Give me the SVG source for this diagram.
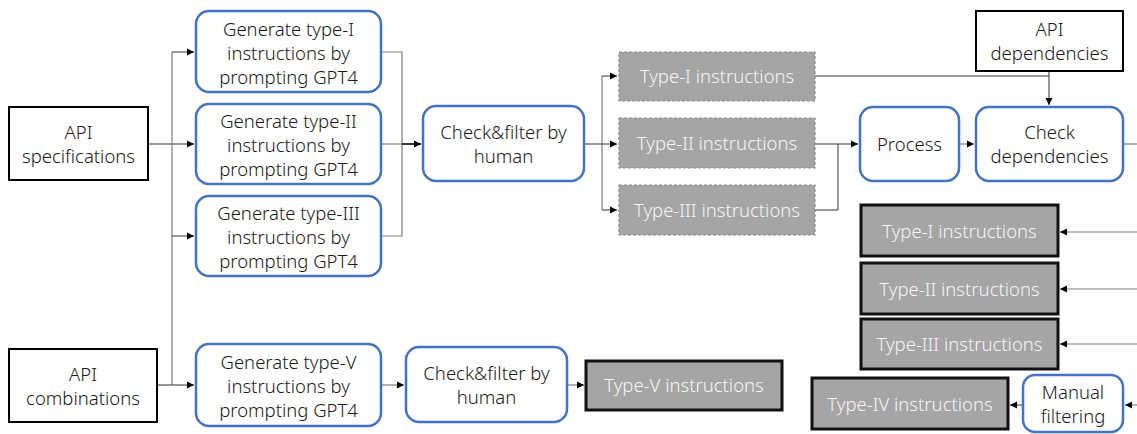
<svg xmlns="http://www.w3.org/2000/svg" width="1137" height="434" viewBox="0 0 1137 434">
<style>
text{font-family:"Noto Sans","Open Sans","Liberation Sans",sans-serif;font-size:18.5px;font-weight:300;fill:#1a1a1a;text-anchor:middle}
.w{fill:#f4f4f4}
.src{fill:#ffffff;stroke:#000;stroke-width:2}
.proc{fill:#ffffff;stroke:#4472C4;stroke-width:2.5}
.dash{fill:#A5A5A5;stroke:#8a8a8a;stroke-width:1.2;stroke-dasharray:3 2}
.out{fill:#A5A5A5;stroke:#111;stroke-width:3}
.c{fill:none;stroke:#7f7f7f;stroke-width:1.2}
.k{fill:none;stroke:#333;stroke-width:1}
</style>
<defs>
<marker id="ah" markerWidth="8" markerHeight="8" refX="7" refY="4" orient="auto" markerUnits="userSpaceOnUse">
<path d="M0,0.5 L7,4 L0,7.5 Z" fill="#000"/>
</marker>
</defs>
<g id="connectors">
<path class="k" d="M148,144 H194" marker-end="url(#ah)"/>
<path class="c" d="M172,52 V385"/>
<path class="k" d="M172,52 H194" marker-end="url(#ah)"/>
<path class="k" d="M172,236 H194" marker-end="url(#ah)"/>
<path class="k" d="M157,385 H194" marker-end="url(#ah)"/>
<path class="c" d="M381,52 H402 V236 H381"/>
<path class="c" d="M381,144 H402"/>
<path class="k" d="M402,144 H421" marker-end="url(#ah)" style="stroke-width:2"/>
<path class="k" d="M584,144 H602"/>
<path class="c" d="M602,76 V210"/>
<path class="k" d="M602,76 H617" marker-end="url(#ah)"/>
<path class="k" d="M602,144 H617" marker-end="url(#ah)"/>
<path class="k" d="M602,210 H617" marker-end="url(#ah)"/>
<path class="k" d="M815,76 H1049"/>
<path class="k" d="M1049,71 V105" marker-end="url(#ah)"/>
<path class="k" d="M815,144 H838 V210 H815"/>
<path class="k" d="M838,144 H858" marker-end="url(#ah)"/>
<path class="c" d="M959,144 H974" marker-end="url(#ah)"/>
<path class="c" d="M1123,144 H1137"/>
<path class="c" d="M1137,232 H1060" marker-end="url(#ah)"/>
<path class="c" d="M1137,289 H1060" marker-end="url(#ah)"/>
<path class="c" d="M1137,344 H1060" marker-end="url(#ah)"/>
<path class="c" d="M1137,405 H1125" marker-end="url(#ah)"/>
<path class="k" d="M1023,405 H1010" marker-end="url(#ah)"/>
<path class="c" d="M381,385 H404" marker-end="url(#ah)"/>
<path class="c" d="M567,385 H584" marker-end="url(#ah)"/>
</g>
<g id="api-spec"><rect class="src" x="9" y="107" width="139" height="73"/><text x="78.5" y="139">API</text><text x="78.5" y="163">specifications</text></g>
<g id="api-comb"><rect class="src" x="9" y="349" width="148" height="73"/><text x="83" y="381">API</text><text x="83" y="405">combinations</text></g>
<g id="gen1"><rect class="proc" x="196" y="11" width="185" height="81" rx="13"/><text x="288.5" y="36">Generate type-I</text><text x="288.5" y="60">instructions by</text><text x="288.5" y="84">prompting GPT4</text></g>
<g id="gen2"><rect class="proc" x="196" y="104" width="185" height="80" rx="13"/><text x="288.5" y="128">Generate type-II</text><text x="288.5" y="152">instructions by</text><text x="288.5" y="176">prompting GPT4</text></g>
<g id="gen3"><rect class="proc" x="196" y="196" width="185" height="80" rx="13"/><text x="288.5" y="220">Generate type-III</text><text x="288.5" y="244">instructions by</text><text x="288.5" y="268">prompting GPT4</text></g>
<g id="gen5"><rect class="proc" x="196" y="344" width="185" height="82" rx="13"/><text x="288.5" y="369">Generate type-V</text><text x="288.5" y="393">instructions by</text><text x="288.5" y="417">prompting GPT4</text></g>
<g id="check1"><rect class="proc" x="423" y="106" width="161" height="75" rx="13"/><text x="503.5" y="139">Check&amp;filter by</text><text x="503.5" y="163">human</text></g>
<g id="check2"><rect class="proc" x="406" y="347" width="161" height="75" rx="13"/><text x="486.5" y="380">Check&amp;filter by</text><text x="486.5" y="404">human</text></g>
<g id="t1a"><rect class="dash" x="619" y="52" width="196" height="49"/><text class="w" x="717" y="83">Type-I instructions</text></g>
<g id="t2a"><rect class="dash" x="619" y="118" width="196" height="50"/><text class="w" x="717" y="150">Type-II instructions</text></g>
<g id="t3a"><rect class="dash" x="619" y="185" width="196" height="50"/><text class="w" x="717" y="217">Type-III instructions</text></g>
<g id="api-dep"><rect class="src" x="976" y="11" width="147" height="60"/><text x="1049.5" y="36">API</text><text x="1049.5" y="60">dependencies</text></g>
<g id="process"><rect class="proc" x="860" y="107" width="99" height="74" rx="13"/><text x="909.5" y="151">Process</text></g>
<g id="checkdep"><rect class="proc" x="976" y="107" width="147" height="74" rx="13"/><text x="1049.5" y="139">Check</text><text x="1049.5" y="163">dependencies</text></g>
<g id="t1b"><rect class="out" x="861" y="205" width="197" height="51"/><text class="w" x="959.5" y="238">Type-I instructions</text></g>
<g id="t2b"><rect class="out" x="861" y="263" width="197" height="51"/><text class="w" x="959.5" y="296">Type-II instructions</text></g>
<g id="t3b"><rect class="out" x="861" y="319" width="197" height="50"/><text class="w" x="959.5" y="351">Type-III instructions</text></g>
<g id="t4"><rect class="out" x="812" y="378" width="196" height="51"/><text class="w" x="910" y="411">Type-IV instructions</text></g>
<g id="manual"><rect class="proc" x="1023" y="375" width="100" height="57" rx="12"/><text x="1073" y="399">Manual</text><text x="1073" y="423">filtering</text></g>
<g id="t5"><rect class="out" x="586" y="361" width="196" height="49"/><text class="w" x="684" y="392">Type-V instructions</text></g>
</svg>
